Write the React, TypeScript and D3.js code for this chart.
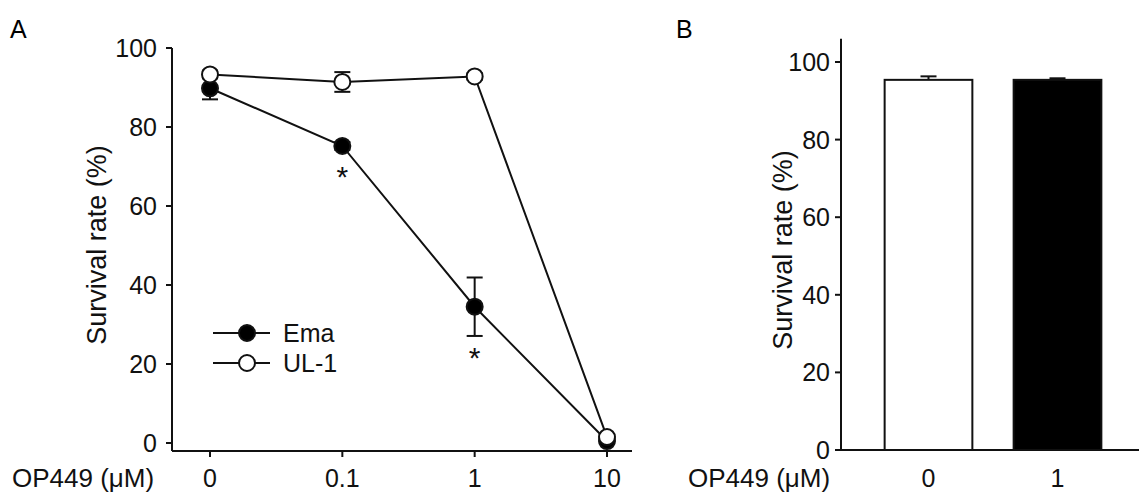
import { useEffect, useRef } from "react";
import * as d3 from "d3";

const W = 1139;
const H = 497;
const FONT = "'Liberation Sans', Arial, sans-serif";

// panel A: dose response
const doses = ["0", "0.1", "1", "10"];
const emaMean = [89.8, 75.2, 34.5, 0.5];
const emaErr = [2.8, 1.0, 7.4, 0.5];
const ulMean = [93.3, 91.4, 92.8, 1.5];
const ulErr = [1.0, 2.5, 0.8, 0.5];
const sigDoses = ["0.1", "1"];

// panel B: bars
const barDoses = ["0", "1"];
const barMean = [95.4, 95.4];
const barErr = [0.9, 0.4];
const barFill = ["#fff", "#000"];

const yTicks = [0, 20, 40, 60, 80, 100];

export default function App() {
  const ref = useRef<SVGSVGElement>(null);

  useEffect(() => {
    document.body.style.margin = "0";
    const svg = d3.select(ref.current);
    svg.selectAll("*").remove();
    svg.style("font-family", FONT);

    // ---------- Panel A ----------
    const a = svg.append("g");
    const xA = d3.scalePoint<string>().domain(doses).range([210, 607]);
    const yA = d3.scaleLinear().domain([0, 100]).range([443, 48]);
    const axA = 172;
    const baseA = 451;

    a.append("text").attr("x", 10).attr("y", 38).attr("font-size", 25).text("A");

    a.append("line")
      .attr("x1", axA).attr("x2", axA)
      .attr("y1", yA(100)).attr("y2", baseA)
      .attr("stroke", "#111").attr("stroke-width", 2);
    a.append("line")
      .attr("x1", axA).attr("x2", 632)
      .attr("y1", baseA).attr("y2", baseA)
      .attr("stroke", "#111").attr("stroke-width", 2);

    yTicks.forEach((t) => {
      a.append("line")
        .attr("x1", axA - 6).attr("x2", axA)
        .attr("y1", yA(t)).attr("y2", yA(t))
        .attr("stroke", "#111").attr("stroke-width", 2);
      a.append("text")
        .attr("x", axA - 15).attr("y", yA(t))
        .attr("text-anchor", "end").attr("dominant-baseline", "central")
        .attr("font-size", 25).attr("fill", "#111")
        .text(t);
    });
    doses.forEach((d) => {
      a.append("line")
        .attr("x1", xA(d)!).attr("x2", xA(d)!)
        .attr("y1", baseA).attr("y2", baseA + 6)
        .attr("stroke", "#111").attr("stroke-width", 2);
      a.append("text")
        .attr("x", xA(d)!).attr("y", 487)
        .attr("text-anchor", "middle")
        .attr("font-size", 25).attr("fill", "#111")
        .text(d);
    });
    a.append("text").attr("x", 12).attr("y", 487)
      .attr("font-size", 26).attr("fill", "#111").text("OP449 (μM)");
    a.append("text")
      .attr("transform", "translate(106,245) rotate(-90)")
      .attr("text-anchor", "middle")
      .attr("font-size", 27).attr("fill", "#111")
      .text("Survival rate (%)");

    const line = d3.line<number>()
      .x((_v, i) => xA(doses[i])!)
      .y((v) => yA(v));

    const series = [
      { mean: emaMean, err: emaErr, fill: "#000" },
      { mean: ulMean, err: ulErr, fill: "#fff" },
    ];

    series.forEach((s) => {
      a.append("path").attr("d", line(s.mean))
        .attr("fill", "none").attr("stroke", "#111").attr("stroke-width", 2);
    });
    series.forEach((s) => {
      s.mean.forEach((m, i) => {
        const x = xA(doses[i])!;
        const lo = yA(m - s.err[i]);
        const hi = yA(m + s.err[i]);
        a.append("line").attr("x1", x).attr("x2", x).attr("y1", lo).attr("y2", hi)
          .attr("stroke", "#111").attr("stroke-width", 2);
        [lo, hi].forEach((yy) =>
          a.append("line").attr("x1", x - 8).attr("x2", x + 8).attr("y1", yy).attr("y2", yy)
            .attr("stroke", "#111").attr("stroke-width", 2));
      });
    });
    series.forEach((s) => {
      s.mean.forEach((m, i) => {
        a.append("circle")
          .attr("cx", xA(doses[i])!).attr("cy", yA(m)).attr("r", 8)
          .attr("fill", s.fill).attr("stroke", "#111").attr("stroke-width", 2);
      });
    });

    sigDoses.forEach((d) => {
      const i = doses.indexOf(d);
      const low = Math.max(yA(emaMean[i] - emaErr[i]), yA(emaMean[i]) + 9);
      a.append("text")
        .attr("x", xA(d)!).attr("y", low + 32)
        .attr("text-anchor", "middle").attr("font-size", 30).attr("fill", "#111")
        .text("*");
    });

    // legend
    const legend = [
      { name: "Ema", fill: "#000" },
      { name: "UL-1", fill: "#fff" },
    ];
    legend.forEach((l, i) => {
      const yy = 333 + i * 30;
      a.append("line").attr("x1", 213).attr("x2", 270).attr("y1", yy).attr("y2", yy)
        .attr("stroke", "#111").attr("stroke-width", 2);
      a.append("circle").attr("cx", 247).attr("cy", yy).attr("r", 8)
        .attr("fill", l.fill).attr("stroke", "#111").attr("stroke-width", 2);
      a.append("text").attr("x", 283).attr("y", yy)
        .attr("dominant-baseline", "central").attr("font-size", 25).attr("fill", "#111")
        .text(l.name);
    });

    // ---------- Panel B ----------
    const b = svg.append("g");
    const xB = d3.scaleBand<string>().domain(barDoses).range([864, 1122])
      .paddingInner(0.32).paddingOuter(0.16);
    const yB = d3.scaleLinear().domain([0, 100]).range([450, 62]);
    const axB = 841;

    b.append("text").attr("x", 676).attr("y", 38).attr("font-size", 25).text("B");

    b.append("line")
      .attr("x1", axB).attr("x2", axB)
      .attr("y1", yB(106)).attr("y2", yB(0))
      .attr("stroke", "#111").attr("stroke-width", 2);

    barDoses.forEach((d, i) => {
      const x0 = xB(d)!;
      const cx = x0 + xB.bandwidth() / 2;
      const hi = yB(barMean[i] + barErr[i]);
      b.append("line").attr("x1", cx).attr("x2", cx).attr("y1", yB(barMean[i])).attr("y2", hi)
        .attr("stroke", "#111").attr("stroke-width", 2);
      b.append("line").attr("x1", cx - 8).attr("x2", cx + 8).attr("y1", hi).attr("y2", hi)
        .attr("stroke", "#111").attr("stroke-width", 2);
      b.append("rect")
        .attr("x", x0).attr("y", yB(barMean[i]))
        .attr("width", xB.bandwidth()).attr("height", yB(0) - yB(barMean[i]))
        .attr("fill", barFill[i]).attr("stroke", "#111").attr("stroke-width", 2);
      b.append("text")
        .attr("x", cx).attr("y", 487)
        .attr("text-anchor", "middle").attr("font-size", 25).attr("fill", "#111")
        .text(d);
    });

    b.append("line")
      .attr("x1", axB).attr("x2", W)
      .attr("y1", yB(0)).attr("y2", yB(0))
      .attr("stroke", "#111").attr("stroke-width", 2);

    yTicks.forEach((t) => {
      b.append("line")
        .attr("x1", axB - 6).attr("x2", axB)
        .attr("y1", yB(t)).attr("y2", yB(t))
        .attr("stroke", "#111").attr("stroke-width", 2);
      b.append("text")
        .attr("x", axB - 11).attr("y", yB(t))
        .attr("text-anchor", "end").attr("dominant-baseline", "central")
        .attr("font-size", 25).attr("fill", "#111")
        .text(t);
    });
    b.append("text").attr("x", 688).attr("y", 487)
      .attr("font-size", 26).attr("fill", "#111").text("OP449 (μM)");
    b.append("text")
      .attr("transform", "translate(792,250) rotate(-90)")
      .attr("text-anchor", "middle")
      .attr("font-size", 27).attr("fill", "#111")
      .text("Survival rate (%)");
  }, []);

  return <svg ref={ref} width={W} height={H} style={{ display: "block", background: "#fff" }} />;
}
